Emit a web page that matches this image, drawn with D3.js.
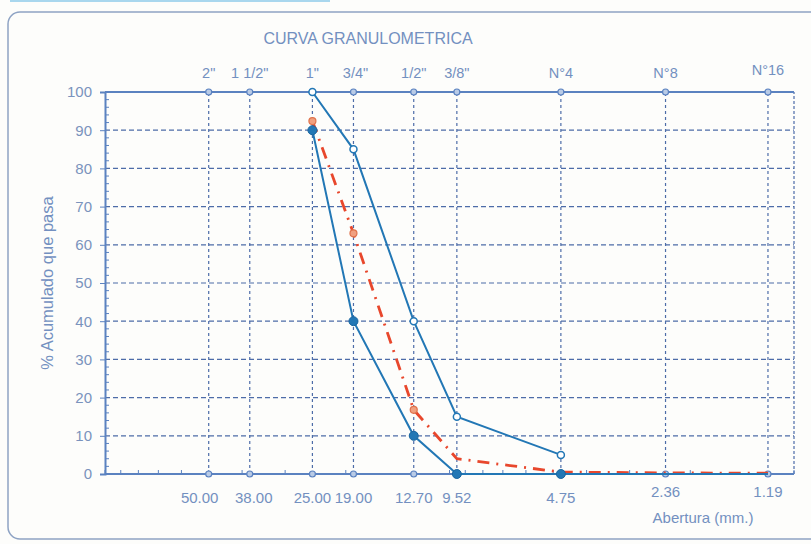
<!DOCTYPE html>
<html>
<head>
<meta charset="utf-8">
<script src="https://cdn.jsdelivr.net/npm/d3@7"></script>
<style>
  body { margin: 0; background: #fdfdfb; }
  text { font-family: "Liberation Sans", Arial, sans-serif; fill: #7390c0; }
</style>
</head>
<body>
<div id="chart"></div>
<script>
// sieve names and openings (mm)
const sieves = ['2"', '1 1/2"', '1"', '3/4"', '1/2"', '3/8"', 'N°4', 'N°8', 'N°16'];
const openings = [50, 38, 25, 19, 12.7, 9.52, 4.75, 2.36, 1.19];
const openingLabels = ['50.00', '38.00', '25.00', '19.00', '12.70', '9.52', '4.75', '2.36', '1.19'];

// % passing
const upperLimit = [null, null, 100, 85, 40, 15, 5, null, null];
const lowerLimit = [null, null, 90, 40, 10, 0, 0, 0, 0];
const sample = [null, null, 92.4, 63, 16.8, 4, 0.5, 0.3, 0.2];

const yTicks = [0, 10, 20, 30, 40, 50, 60, 70, 80, 90, 100];

const width = 811, height = 544;
const svg = d3.select("#chart").append("svg")
    .attr("width", width)
    .attr("height", height);

// scanned page bits: light bar on top and rounded frame
svg.append("rect").attr("x", 10).attr("y", 0).attr("width", 320).attr("height", 2)
    .attr("fill", "#a9d7ee");
svg.append("rect").attr("x", 8).attr("y", 12).attr("width", 830).attr("height", 527)
    .attr("rx", 12).attr("fill", "none").attr("stroke", "#8ea3c4").attr("stroke-width", 1.5);

const x = d3.scaleLog().domain([100, 1]).range([105, 794]);
const y = d3.scaleLinear().domain([0, 100]).range([474, 92]);

const gridColor = "#4d6ca8";
const lineColor = "#2277b5";

// horizontal grid
svg.append("g").selectAll("line")
    .data(yTicks.filter(d => d > 0 && d < 100))
    .join("line")
    .attr("x1", x(100)).attr("x2", x(1))
    .attr("y1", d => y(d)).attr("y2", d => y(d))
    .attr("stroke", gridColor).attr("stroke-width", 1.2)
    .attr("stroke-dasharray", "5,3");

// vertical grid at each sieve
svg.append("g").selectAll("line")
    .data(openings)
    .join("line")
    .attr("x1", d => x(d)).attr("x2", d => x(d))
    .attr("y1", y(0)).attr("y2", y(100))
    .attr("stroke", gridColor).attr("stroke-width", 1.2)
    .attr("stroke-dasharray", "3,3");

// right border (dashed)
svg.append("line")
    .attr("x1", x(1)).attr("x2", x(1)).attr("y1", y(0)).attr("y2", y(100))
    .attr("stroke", gridColor).attr("stroke-width", 1.2).attr("stroke-dasharray", "3,2");

// y axis with minor ticks
const yAxis = d3.axisLeft(y).tickValues(yTicks).tickSize(5).tickPadding(8).tickFormat(d3.format("d"));
const gy = svg.append("g").attr("transform", `translate(${x(100)},0)`).call(yAxis);
gy.select(".domain").attr("stroke", "#5b82c0").attr("stroke-width", 2);
gy.selectAll(".tick line").attr("stroke", "#5b82c0");
gy.selectAll(".tick text").attr("font-size", 15).style("fill", "#7a93bd")
    .style("font-family", '"Liberation Sans", Arial, sans-serif');
svg.append("g").selectAll("line")
    .data(d3.range(0, 101, 2).filter(d => d % 10 !== 0))
    .join("line")
    .attr("x1", x(100)).attr("x2", x(100) + 4)
    .attr("y1", d => y(d)).attr("y2", d => y(d))
    .attr("stroke", "#5b82c0").attr("stroke-width", 1);

// x axis (log minor ticks)
const minor = [];
[1, 10].forEach(dec => d3.range(1, 10).forEach(m => minor.push(m * dec)));
minor.push(100);
svg.append("g").selectAll("line")
    .data(minor)
    .join("line")
    .attr("x1", d => x(d)).attr("x2", d => x(d))
    .attr("y1", y(0)).attr("y2", y(0) - 4)
    .attr("stroke", "#5b82c0").attr("stroke-width", 1);
svg.append("line")
    .attr("x1", x(100)).attr("x2", x(1)).attr("y1", y(0)).attr("y2", y(0))
    .attr("stroke", "#5b82c0").attr("stroke-width", 2);
svg.append("line")
    .attr("x1", x(100)).attr("x2", x(1)).attr("y1", y(100)).attr("y2", y(100))
    .attr("stroke", "#5b82c0").attr("stroke-width", 2);

// sieve markers at 0 and 100
[0, 100].forEach(v => {
  svg.append("g").selectAll("circle")
      .data(openings)
      .join("circle")
      .attr("cx", d => x(d)).attr("cy", y(v)).attr("r", 3)
      .attr("fill", "#b9cbe6").attr("stroke", "#5b82c0").attr("stroke-width", 1.2);
});

// series
const pts = vals => openings.map((o, i) => ({ o, v: vals[i] })).filter(d => d.v !== null);
const line = d3.line().x(d => x(d.o)).y(d => y(d.v));

svg.append("path").datum(pts(sample))
    .attr("d", line).attr("fill", "none")
    .attr("stroke", "#e8472c").attr("stroke-width", 2.8)
    .attr("stroke-dasharray", "12,7,2,7");
svg.append("g").selectAll("circle")
    .data(pts(sample).slice(0, 3))
    .join("circle")
    .attr("cx", d => x(d.o)).attr("cy", d => y(d.v)).attr("r", 3.5)
    .attr("fill", "#f0a080").attr("stroke", "#e0734c").attr("stroke-width", 1.2);

svg.append("path").datum(pts(upperLimit))
    .attr("d", line).attr("fill", "none")
    .attr("stroke", lineColor).attr("stroke-width", 2);
svg.append("g").selectAll("circle")
    .data(pts(upperLimit))
    .join("circle")
    .attr("cx", d => x(d.o)).attr("cy", d => y(d.v)).attr("r", 3.5)
    .attr("fill", "#fff").attr("stroke", lineColor).attr("stroke-width", 1.5);

svg.append("path").datum(pts(lowerLimit))
    .attr("d", line).attr("fill", "none")
    .attr("stroke", lineColor).attr("stroke-width", 2);
svg.append("g").selectAll("circle")
    .data(pts(lowerLimit).slice(0, 5))
    .join("circle")
    .attr("cx", d => x(d.o)).attr("cy", d => y(d.v)).attr("r", 4.5)
    .attr("fill", lineColor).attr("stroke", "#1a66a0").attr("stroke-width", 1);

// labels
svg.append("text").attr("x", 368).attr("y", 44).attr("text-anchor", "middle")
    .attr("font-size", 16).text("CURVA GRANULOMETRICA");

svg.append("g").selectAll("text")
    .data(sieves)
    .join("text")
    .attr("x", (d, i) => x(openings[i]) + (i === 3 ? 2 : 0))
    .attr("y", (d, i) => i === 8 ? 75 : 78)
    .attr("text-anchor", "middle").attr("font-size", 14.5)
    .text(d => d);

// the first two opening labels sit a bit apart in the original
const labelShift = { 0: -9, 1: 4 };
svg.append("g").selectAll("text")
    .data(openingLabels)
    .join("text")
    .attr("x", (d, i) => x(openings[i]) + (labelShift[i] || 0))
    .attr("y", (d, i) => i >= 7 ? 497 : 503)
    .attr("text-anchor", "middle").attr("font-size", 15)
    .text(d => d);

svg.append("text").attr("x", 703).attr("y", 523).attr("text-anchor", "middle")
    .attr("font-size", 15).text("Abertura (mm.)");

svg.append("text")
    .attr("transform", "translate(53,283) rotate(-90)")
    .attr("text-anchor", "middle").attr("font-size", 16.5)
    .text("% Acumulado que pasa");
</script>
</body>
</html>
